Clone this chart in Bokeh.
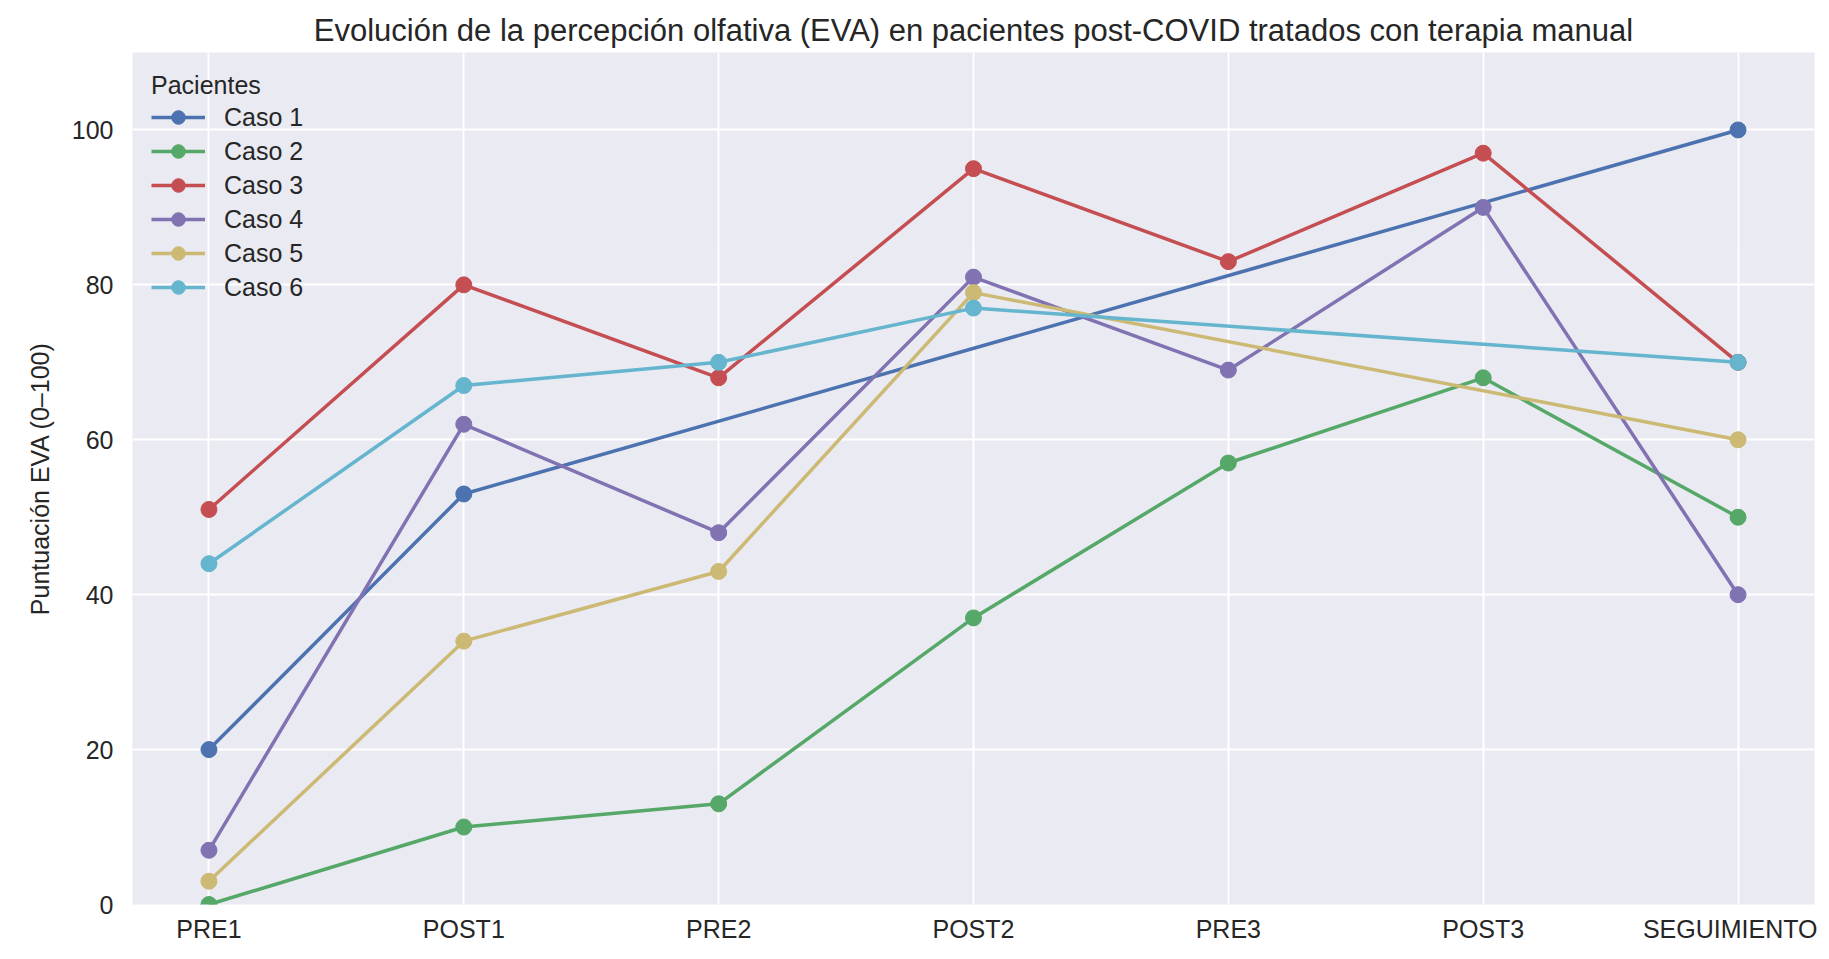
from bokeh.plotting import figure
from bokeh.models import Range1d, FixedTicker, Legend, LegendItem, ColumnDataSource
from bokeh.embed import file_html
from bokeh.resources import INLINE

# ---- data ----
etapas = ["PRE1", "POST1", "PRE2", "POST2", "PRE3", "POST3", "SEGUIMIENTO"]
casos = ["Caso 1", "Caso 2", "Caso 3", "Caso 4", "Caso 5", "Caso 6"]
caso1 = [20, 53, None, None, None, None, 100]
caso2 = [0, 10, 13, 37, 57, 68, 50]
caso3 = [51, 80, 68, 95, 83, 97, 70]
caso4 = [7, 62, 48, 81, 69, 90, 40]
caso5 = [3, 34, 43, 79, None, None, 60]
caso6 = [44, 67, 70, 77, None, None, 70]
series = [caso1, caso2, caso3, caso4, caso5, caso6]
colores = ["#4C72B0", "#55A868", "#C44E52", "#8172B2", "#CCB974", "#64B5CD"]

FONT = "Liberation Sans"
TXT = "#262626"

p = figure(width=1817, height=951, output_backend="svg", toolbar_location=None,
           x_range=Range1d(-0.3, 6.3), y_range=Range1d(0, 110),
           min_border_left=132, min_border_right=3, min_border_top=52, min_border_bottom=47,
           title="Evolución de la percepción olfativa (EVA) en pacientes post-COVID tratados con terapia manual")

p.title.align = "center"
p.title.text_font = FONT
p.title.text_font_size = "31px"
p.title.text_font_style = "normal"
p.title.text_color = TXT

p.background_fill_color = "#EAEAF2"
p.border_fill_color = "white"
p.outline_line_color = None

p.xaxis.ticker = FixedTicker(ticks=list(range(len(etapas))))
p.xaxis.major_label_overrides = {i: e for i, e in enumerate(etapas)}
p.yaxis.ticker = FixedTicker(ticks=[0, 20, 40, 60, 80, 100])
p.yaxis.axis_label = "Puntuación EVA (0–100)"

for ax in (p.xaxis[0], p.yaxis[0]):
    ax.axis_line_color = None
    ax.major_tick_line_color = None
    ax.minor_tick_line_color = None
    ax.major_tick_out = 0
    ax.major_tick_in = 0
    ax.minor_tick_out = 0
    ax.major_label_text_font = FONT
    ax.major_label_text_font_size = "25px"
    ax.major_label_text_color = TXT
    ax.axis_label_text_font = FONT
    ax.axis_label_text_font_size = "25px"
    ax.axis_label_text_font_style = "normal"
    ax.axis_label_text_color = TXT

p.xaxis.major_label_standoff = 10
p.yaxis.major_label_standoff = 19
p.yaxis.axis_label_standoff = 15

p.xgrid.grid_line_color = "white"
p.ygrid.grid_line_color = "white"
p.xgrid.grid_line_width = 2
p.ygrid.grid_line_width = 2

items = []
for nombre, vals, col in zip(casos, series, colores):
    xs = [i for i, v in enumerate(vals) if v is not None]
    ys = [v for v in vals if v is not None]
    src = ColumnDataSource(dict(x=xs, y=ys))
    r1 = p.line("x", "y", source=src, line_color=col, line_width=3.5)
    r2 = p.scatter("x", "y", source=src, size=16, fill_color=col, line_color=col)
    items.append(LegendItem(label=nombre, renderers=[r1, r2]))

legend = Legend(items=items, location="top_left", title="Pacientes",
                margin=10, padding=9, spacing=0, title_standoff=0,
                glyph_width=54, glyph_height=34, label_standoff=19,
                label_text_font=FONT, label_text_font_size="25px", label_text_color=TXT,
                title_text_font=FONT, title_text_font_size="25px", title_text_font_style="normal",
                title_text_color=TXT,
                background_fill_alpha=0, border_line_alpha=0)
p.add_layout(legend, "center")

open("out.html", "w").write(file_html(p, INLINE))
